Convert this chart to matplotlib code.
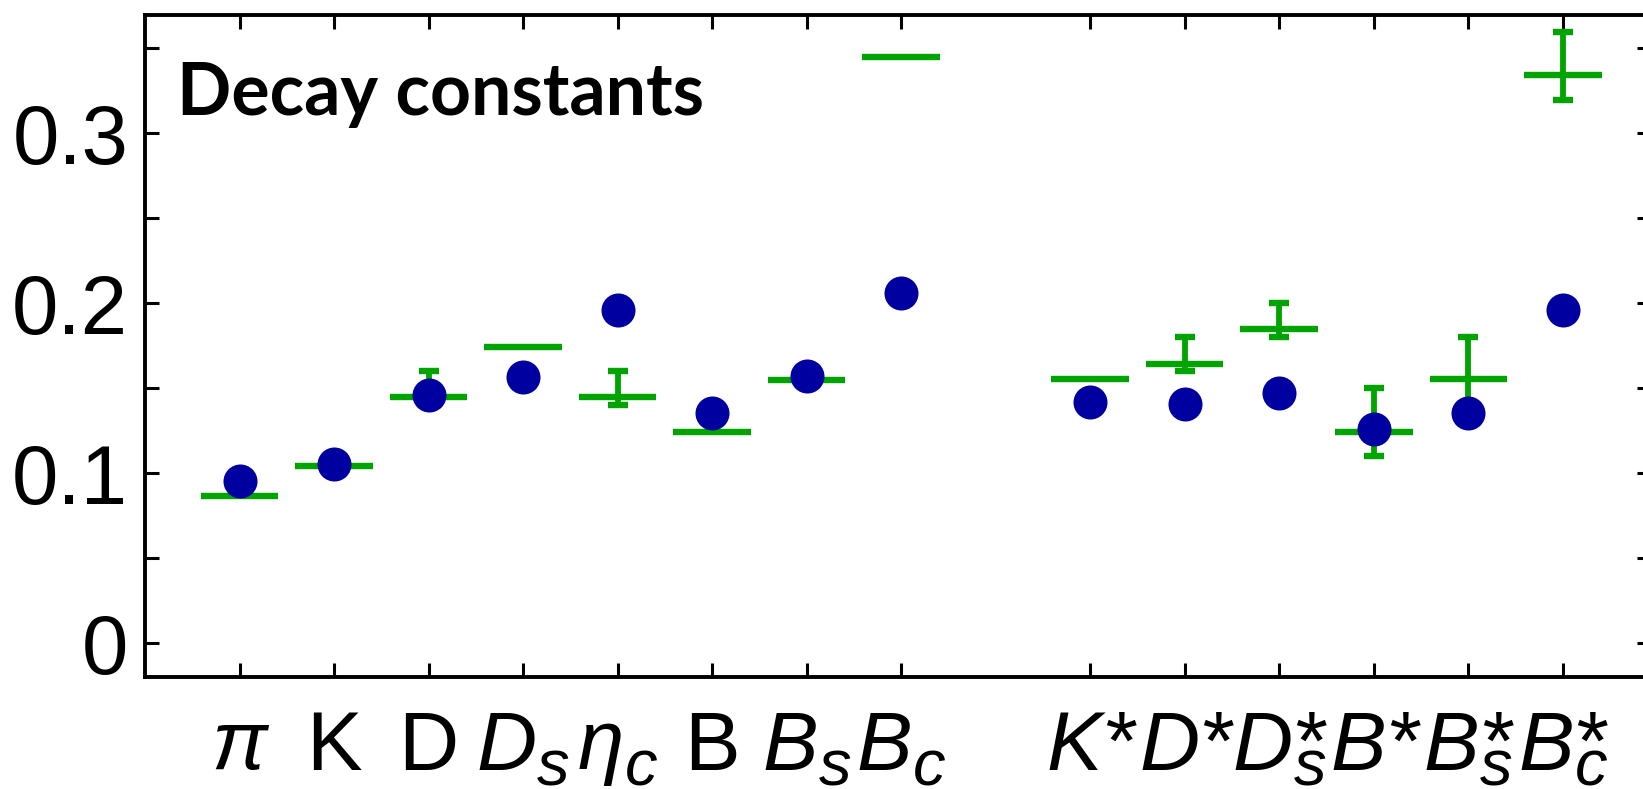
import matplotlib
matplotlib.use("Agg")
import matplotlib.pyplot as plt
import numpy as np

# ---- data ----
# each label: (main letter, italic?, has star, subscript)
label_main = ['π', 'K', 'D', 'D', 'η', 'B', 'B', 'B', 'K', 'D', 'D', 'B', 'B', 'B']
label_italic = [True, False, False, True, True, False, True, True, True, True, True, True, True, True]
label_star = [False] * 8 + [True] * 6
label_sub = ['', '', '', 's', 'c', '', 's', 'c', '', '', 's', '', 's', 'c']
xpos = [1, 2, 3, 4, 5, 6, 7, 8, 10, 11, 12, 13, 14, 15]
model = [0.0955, 0.1055, 0.146, 0.1565, 0.196, 0.1357, 0.157, 0.206,
         0.142, 0.141, 0.1474, 0.126, 0.1357, 0.196]
exp_val = [0.0868, 0.1045, 0.145, 0.1745, 0.145, 0.1245, 0.155, 0.3447,
           0.1553, 0.1643, 0.1847, 0.1245, 0.1553, 0.3345]
exp_err_up = [0.0, 0.0, 0.015, 0.0, 0.015, 0.0, 0.0, 0.0,
              0.0, 0.0157, 0.0153, 0.0255, 0.0247, 0.025]
exp_err_dn = [0.0, 0.0, 0.005, 0.0, 0.005, 0.0, 0.0, 0.0,
              0.0, 0.0043, 0.0047, 0.0145, 0.0253, 0.015]
yticks = [0, 0.1, 0.2, 0.3]
yticklabels = ['0', '0.1', '0.2', '0.3']
yminor = [0.05, 0.15, 0.25, 0.35]

plt.rcParams['font.family'] = ['Liberation Sans', 'DejaVu Sans']

W, H = 1643, 789
DPI = 100
fig = plt.figure(figsize=(W / DPI, H / DPI), dpi=DPI)
x0_px = 145.0
unit_px = 94.52
xmax = 15.93
left = x0_px / W
width = xmax * unit_px / W
bottom = 1 - 676.7 / H
top = 1 - 15.0 / H
ax = fig.add_axes([left, bottom, width, top - bottom])

green = '#00A400'
blue = '#0000A0'

x = np.array(xpos, dtype=float)
ev = np.array(exp_val)
up = np.array(exp_err_up)
dn = np.array(exp_err_dn)

ax.hlines(ev, x - 0.41, x + 0.41, color=green, linewidth=4.6, zorder=2)
mask = (up > 0) | (dn > 0)
ax.errorbar(x[mask], ev[mask], yerr=[dn[mask], up[mask]], fmt='none',
            ecolor=green, elinewidth=4.2, capsize=7.5, capthick=4.6, zorder=2)
ax.plot(x, model, 'o', color=blue, markersize=24.5, markeredgewidth=0, zorder=3)

ax.set_xlim(0, xmax)
ax.set_ylim(-0.0197, 0.3696)

ax.set_xticks(xpos)
ax.set_xticklabels([''] * len(xpos))
ax.set_yticks(yticks)
ax.set_yticklabels(yticklabels)
ax.set_yticks(yminor, minor=True)

for sp in ax.spines.values():
    sp.set_linewidth(2.8)

ax.tick_params(axis='both', which='both', direction='in', width=2.2, length=10,
               top=True, right=True)
ax.tick_params(axis='y', which='major', labelsize=60, pad=12)

ax.text(0.336, 0.3108, 'Decay constants', fontsize=51.5, fontweight='bold',
        family=['Lato', 'DejaVu Sans'], ha='left', va='baseline', zorder=5)

# ---- composite x tick labels (letter + full-size star + large subscript) ----
MAIN_FS = 60
SUB_FS = 47
base_dy = -(769.5 - 676.7) * 72 / DPI   # points below the bottom spine
sub_dy = base_dy - 11.5
px2pt = 72 / DPI
trans = ax.get_xaxis_transform()
fig.canvas.draw()
rend = fig.canvas.get_renderer()
for xi, m, it, st, sb in zip(xpos, label_main, label_italic, label_star, label_sub):
    style = 'italic' if it else 'normal'
    group = []
    t_main = ax.annotate(m, xy=(xi, 0), xycoords=trans, xytext=(0, base_dy),
                         textcoords='offset points', ha='left', va='baseline',
                         fontsize=MAIN_FS, fontstyle=style, annotation_clip=False)
    group.append(t_main)
    wm = t_main.get_window_extent(renderer=rend).width * px2pt
    if st:
        t_star = ax.annotate('*', xy=(xi, 0), xycoords=trans, xytext=(wm - 1.0, base_dy),
                             textcoords='offset points', ha='left', va='baseline',
                             fontsize=MAIN_FS, fontstyle='italic', annotation_clip=False)
        group.append(t_star)
    if sb:
        t_sub = ax.annotate(sb, xy=(xi, 0), xycoords=trans, xytext=(wm + 0.5, sub_dy),
                            textcoords='offset points', ha='left', va='baseline',
                            fontsize=SUB_FS, fontstyle='italic', annotation_clip=False)
        group.append(t_sub)
    exts = [t.get_window_extent(renderer=rend) for t in group]
    lo = min(e.x0 for e in exts)
    hi = max(e.x1 for e in exts)
    tick_px = ax.transData.transform((xi, 0))[0]
    shift = (tick_px - (lo + hi) / 2) * px2pt
    for t in group:
        dx, dy = t.xyann
        t.xyann = (dx + shift, dy)

fig.savefig('out.png', dpi=DPI)
